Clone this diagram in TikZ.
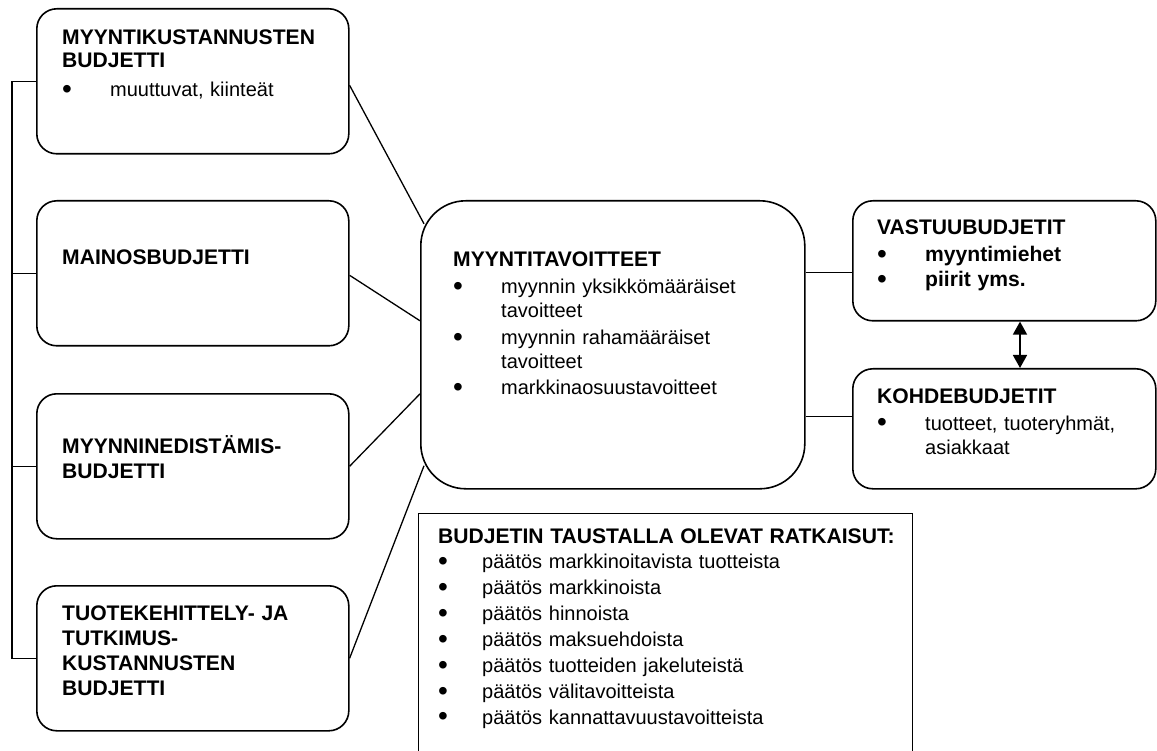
\documentclass[tikz,border=0pt]{standalone}
\usepackage{fontspec}
\usepackage{graphicx}
\setmainfont{Liberation Sans}
\usetikzlibrary{calc,arrows.meta}
\newcommand{\bigbul}{\smash{\raisebox{-1.6pt}{\scalebox{1.4}{\textbullet}}}}
\newcommand{\bul}[1]{\makebox[48pt][l]{\bigbul}#1}
\newcommand{\cont}[1]{\hspace*{48pt}#1}
\newcommand{\bulb}[1]{\makebox[44pt][l]{\bigbul}#1}
\newcommand{\hd}[1]{{\fontsize{21.1}{25}\selectfont\bfseries #1}}
\hyphenpenalty=10000
\begin{document}
\begin{tikzpicture}[x=1pt,y=-1pt,
  lbox/.style={draw, line width=1.6pt, rounded corners=20pt, minimum width=312pt, minimum height=145pt, inner sep=0pt, anchor=north west},
  cbox/.style={draw, line width=1.6pt, rounded corners=45pt, minimum width=384pt, minimum height=288pt, inner sep=0pt, anchor=north west},
  rbox/.style={draw, line width=1.6pt, rounded corners=20pt, minimum width=303pt, minimum height=120pt, inner sep=0pt, anchor=north west},
  dbox/.style={draw, line width=1.3pt, minimum width=494pt, minimum height=260pt, inner sep=0pt, anchor=north west},
  txt/.style={anchor=base west, align=left, inner sep=0pt, font=\fontsize{20}{25}\selectfont, text width=#1},
  conn/.style={line width=1.3pt},
  dbl/.style={line width=1.6pt, {Triangle[width=14pt,length=13pt]}-{Triangle[width=14pt,length=13pt]}}
]
\useasboundingbox (0,0) rectangle (1157,751);
\clip (0,0) rectangle (1157,751);
\fill[white] (0,0) rectangle (1157,751);

% left boxes
\node[lbox] (b1) at (36,8) {};
\node[lbox] (b2) at (36,200) {};
\node[lbox] (b3) at (36,393) {};
\node[lbox] (b4) at (36,585) {};
% centre
\node[cbox] (ctr) at (420,200) {};
% right
\node[rbox] (rb1) at (852,200) {};
\node[rbox] (rb2) at (852,368) {};
% bottom decision box
\node[dbox] (dec) at (418,513) {};

% texts
\node[txt=290pt] (t1) at (62,45) {\hd{MYYNTIKUSTANNUSTEN}\\[-2pt]\hd{BUDJETTI}\\[4pt]\bul{muuttuvat, kiinteät}};
\node[txt=290pt] (t2) at (62,265) {\hd{MAINOSBUDJETTI}};
\node[txt=290pt] (t3) at (62,453) {\hd{MYYNNINEDISTÄMIS-}\\\hd{BUDJETTI}};
\node[txt=290pt] (t4) at (62,620) {\hd{TUOTEKEHITTELY- JA}\\\hd{TUTKIMUS-}\\\hd{KUSTANNUSTEN}\\\hd{BUDJETTI}};
\node[txt=345pt] (tc) at (453,267) {\hd{MYYNTITAVOITTEET}\\[2pt]\bul{myynnin yksikkömääräiset}\\[-1pt]\cont{tavoitteet}\\[2pt]\bul{myynnin rahamääräiset}\\[-1pt]\cont{tavoitteet}\\[1pt]\bul{markkinaosuustavoitteet}};
\node[txt=278pt] (tr1) at (877,235) {\hd{VASTUUBUDJETIT}\\[2pt]\bul{\hd{myyntimiehet}}\\\bul{\hd{piirit yms.}}};
\node[txt=278pt] (tr2) at (877,403) {\hd{KOHDEBUDJETIT}\\[2pt]\bul{tuotteet, tuoteryhmät,}\\[-1pt]\cont{asiakkaat}};
\node[txt=470pt, font=\fontsize{20}{25.9}\selectfont] (td) at (438,543) {\hd{BUDJETIN TAUSTALLA OLEVAT RATKAISUT:}\\
\bulb{päätös markkinoitavista tuotteista}\\
\bulb{päätös markkinoista}\\
\bulb{päätös hinnoista}\\
\bulb{päätös maksuehdoista}\\
\bulb{päätös tuotteiden jakeluteistä}\\
\bulb{päätös välitavoitteista}\\
\bulb{päätös kannattavuustavoitteista}};

% left bracket
\coordinate (bx) at (12,0);
\draw[conn] (b1.west) -| (bx |- b4.west) -- (b4.west);
\draw[conn] (b2.west) -- (b2.west -| bx);
\draw[conn] (b3.west) -- (b3.west -| bx);

% left boxes to centre
\draw[conn] ($(b1.east)+(0,4)$) -- ($(ctr.west)+(4,-121)$);
\draw[conn] ($(b2.east)+(0,2)$) -- ($(ctr.west)+(0,-24)$);
\draw[conn] (b3.east) -- ($(ctr.west)+(0,49)$);
\draw[conn] (b4.east) -- ($(ctr.west)+(4,121)$);

% centre to right
\coordinate (c1) at ($(ctr.east)+(0,-72)$);
\coordinate (c2) at ($(ctr.east)+(0,72)$);
\draw[conn] (c1) -- (c1 -| rb1.west);
\draw[conn] (c2) -- (c2 -| rb2.west);

% double arrow
\coordinate (ax) at (1020,0);
\draw[dbl] (rb1.south -| ax) -- (rb2.north -| ax);
\end{tikzpicture}
\end{document}
